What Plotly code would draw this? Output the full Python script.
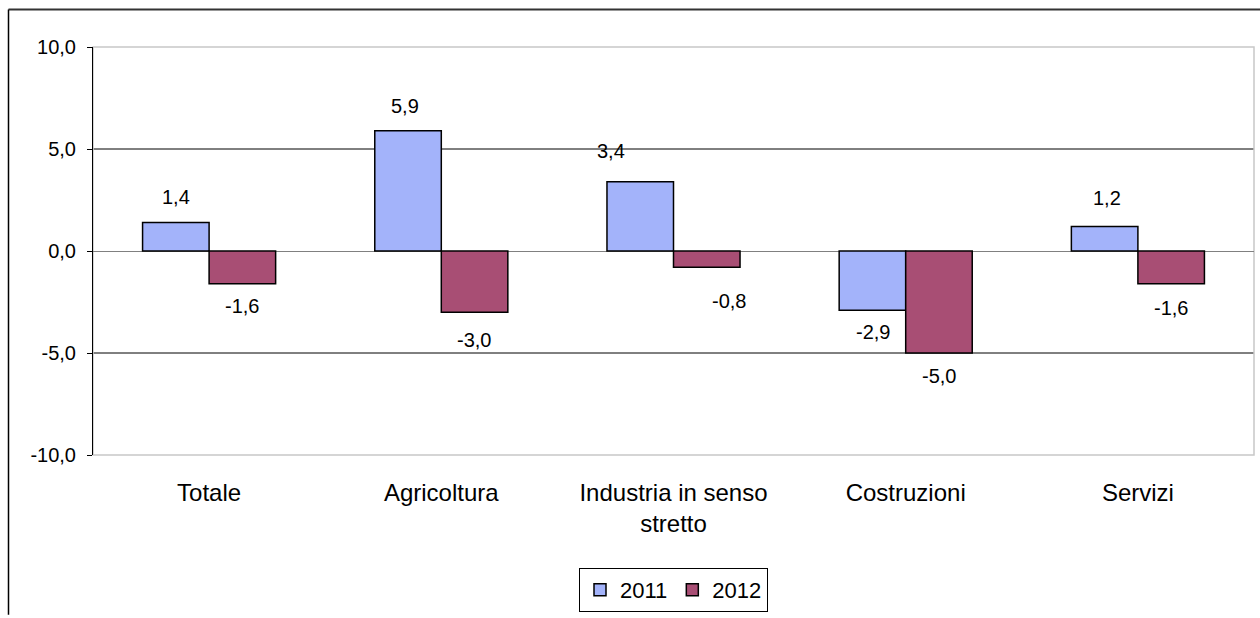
import plotly.graph_objects as go

categories = ["Totale", "Agricoltura", "Industria in senso<br>stretto", "Costruzioni", "Servizi"]
values_2011 = [1.4, 5.9, 3.4, -2.9, 1.2]
values_2012 = [-1.6, -3.0, -0.8, -5.0, -1.6]
series_names = ["2011", "2012"]
y_ticks = [-10, -5, 0, 5, 10]
y_tick_labels = ["-10,0", "-5,0", "0,0", "5,0", "10,0"]
grid_values = [5, -5]

# per-label manual nudges (pixels), mimicking hand-placed labels
dx_2011 = [0, -3, -30, 0, 2]
dy_2011 = [0, 0, 6, 0, 4]
dx_2012 = [0, 0, 22, 0, 0]
dy_2012 = [0, -6, -12, -1, -2]

BLUE = "#A3B3FA"
MAROON = "#A84E74"
FONT = "Arial, Liberation Sans, sans-serif"

W, H = 1260, 618
L, R, T, B = 93, 6, 47, 157
plot_w = W - L - R
plot_h = H - T - B
bar_px = 66

fig = go.Figure()
fig.add_trace(go.Bar(x=categories, y=values_2011, name=series_names[0],
                     marker=dict(color=BLUE, line=dict(color="black", width=1.5))))
fig.add_trace(go.Bar(x=categories, y=values_2012, name=series_names[1],
                     marker=dict(color=MAROON, line=dict(color="black", width=1.5))))

annotations = []
for vals, side, dxs, dys in ((values_2011, -1, dx_2011, dy_2011), (values_2012, 1, dx_2012, dy_2012)):
    for i, v in enumerate(vals):
        base = 25 if v >= 0 else -22
        annotations.append(dict(
            x=categories[i], y=v, xref="x", yref="y",
            text=f"{v:.1f}".replace(".", ","), showarrow=False,
            xshift=side * bar_px / 2 + dxs[i], yshift=base + dys[i],
            yanchor="middle", xanchor="center",
            font=dict(family=FONT, size=20, color="black")))

shapes = []
for g in grid_values:
    shapes.append(dict(type="line", xref="paper", x0=0, x1=1, yref="y", y0=g, y1=g,
                       line=dict(color="black", width=1), layer="below"))
# plot area border (light grey)
shapes.append(dict(type="rect", xref="paper", yref="paper", x0=0, x1=1, y0=0, y1=1,
                   line=dict(color="#C8C8C8", width=1.5), layer="below"))
# outer chart border (top and left)
ox = (8.5 - L) / plot_w
oy = (H - B - 9) / plot_h
shapes.append(dict(type="line", xref="paper", yref="paper", x0=ox, x1=(W - L) / plot_w + 0.01,
                   y0=oy, y1=oy, line=dict(color="#333333", width=2)))
shapes.append(dict(type="line", xref="paper", yref="paper", x0=ox, x1=ox,
                   y0=oy, y1=-(B + 5) / plot_h, line=dict(color="black", width=1.5)))

fig.update_layout(
    width=W, height=H,
    margin=dict(l=L, r=R, t=T, b=B, pad=0),
    paper_bgcolor="white", plot_bgcolor="white",
    separators=",.",
    barmode="group", bargap=0.427, bargroupgap=0,
    font=dict(family=FONT, size=20, color="black"),
    showlegend=True,
    legend=dict(orientation="h", x=0.5, xanchor="center", y=-0.331, yanchor="middle",
                bordercolor="black", borderwidth=1, font=dict(size=22),
                itemwidth=30, tracegroupgap=0),
    annotations=annotations,
    shapes=shapes,
    hovermode=False,
)
fig.update_yaxes(range=[-10, 10], tickvals=y_ticks, ticktext=y_tick_labels,
                 showgrid=False, zeroline=True, zerolinecolor="#808080", zerolinewidth=1,
                 showline=True, linecolor="black", linewidth=1,
                 ticks="outside", ticklen=5, tickcolor="black", ticklabelstandoff=7,
                 tickfont=dict(size=20), fixedrange=True)
fig.update_xaxes(showgrid=False, showline=False, ticks="outside", ticklen=16,
                 tickcolor="rgba(0,0,0,0)", tickfont=dict(size=24),
                 fixedrange=True)

fig.write_html(
    "out.html",
    config={"displayModeBar": False, "staticPlot": True},
    post_script="document.body.style.margin='0';document.documentElement.style.overflow='hidden';",
)
